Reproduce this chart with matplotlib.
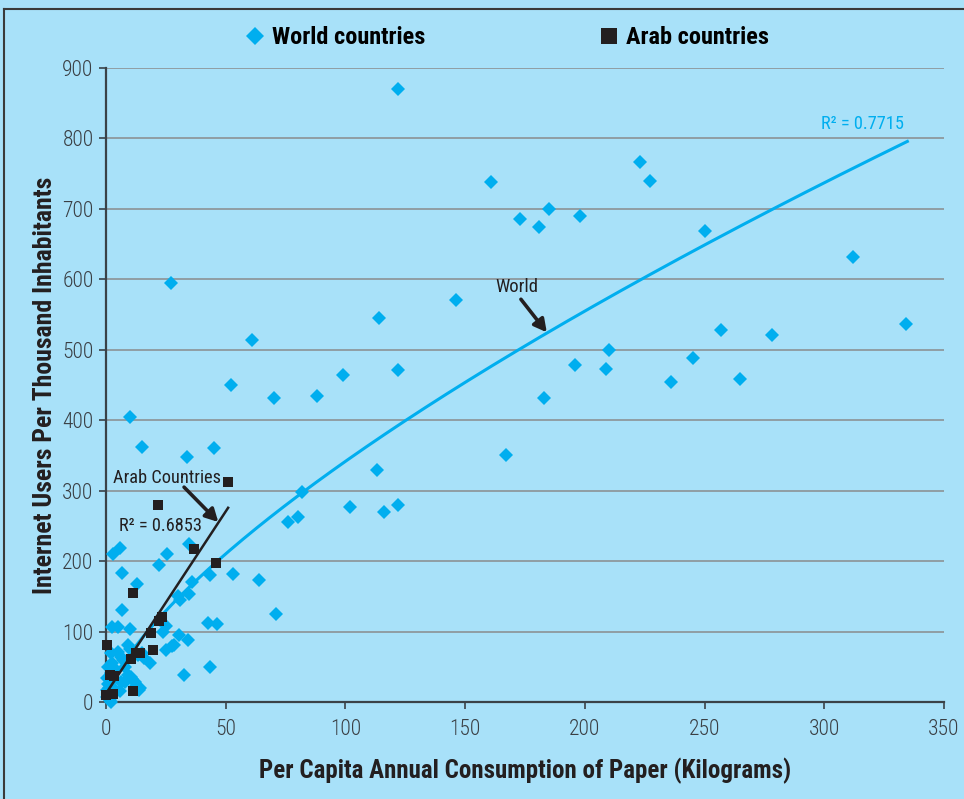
import matplotlib
matplotlib.use("Agg")
import matplotlib.pyplot as plt
import numpy as np
from matplotlib.lines import Line2D
from matplotlib import font_manager

# ---- data ----
world_x = [122, 27, 161, 173, 181, 185, 198, 223, 227, 250, 146, 114, 122, 61, 52, 70, 88, 99,
           113, 116, 122, 102, 80, 76, 82, 64, 71, 53, 167, 183, 196, 209, 210, 236, 245, 257,
           265, 278, 312, 334, 10, 15, 34, 45,
           34.7, 25.5, 22, 6, 3, 6.5, 12.8, 35.8, 43.4, 30, 31, 34.6, 6.5, 2.4, 4.9, 10, 42.5,
           46.2, 25, 24, 30.3, 34.2, 28.5, 27.4, 25, 18.4, 32.7, 43.4, 9.2, 5, 6.4, 2.2, 13.4,
           7.8, 10.6, 12, 13.6, 0.8, 2.2, 0.3, 0.4, 1.5, 6.4, 3.6, 5.7, 0.3, 8, 9, 11, 12, 14,
           7, 4, 1, 2.5, 3, 10, 16, 15, 1.2, 2]
world_y = [870, 595, 738, 686, 674, 700, 690, 767, 740, 669, 571, 545, 471, 514, 450, 431, 435, 464,
           330, 270, 279, 277, 263, 256, 298, 173, 125, 182, 350, 431, 478, 473, 500, 454, 488, 528,
           459, 521, 631, 536, 405, 362, 348, 360,
           224, 210, 194, 218, 210, 183, 167, 171, 180, 150, 145, 154, 131, 107, 106, 104, 112,
           111, 108, 100, 95, 88, 81, 79, 74, 56, 38, 50, 81, 71, 64, 69, 67,
           50, 36, 29, 17, 50, 41, 34, 7, 3, 29, 17, 15, 17, 28, 38, 33, 22, 20,
           60, 45, 25, 55, 33, 75, 63, 70, 20, 0]

arab_x = [0.5, 1.5, 3.3, 0.2, 2.9, 11.2, 10.6, 12.7, 14.2, 19.5, 18.7, 22.2, 23.5, 11.2, 21.9,
          36.9, 45.8, 50.8]
arab_y = [81, 38, 37, 10, 11, 16, 61, 69, 69, 74, 98, 115, 121, 155, 279, 217, 198, 313]

# trendlines
world_fit_a, world_fit_b = 13.6, 0.70      # power trend y = a * x^b
world_fit_range = (0.3, 334.7)
arab_fit_slope, arab_fit_icpt = 5.17, 12.0  # linear trend
arab_fit_range = (0.5, 51.0)
world_r2 = "R\u00b2 = 0.7715"
arab_r2 = "R\u00b2 = 0.6853"

xticks = [0, 50, 100, 150, 200, 250, 300, 350]
yticks = [0, 100, 200, 300, 400, 500, 600, 700, 800, 900]

# ---- font choice: prefer a condensed face ----
names = {f.name for f in font_manager.fontManager.ttflist}
FAM = ["DejaVu Sans"]
STRETCH = "normal"
for cand in ["Roboto Condensed", "Liberation Sans Narrow", "Open Sans Condensed",
             "DejaVu Sans Condensed", "Noto Sans Condensed"]:
    if cand in names:
        FAM = [cand, "DejaVu Sans"]
        break
else:
    STRETCH = "condensed"

def fp(size, weight="normal"):
    return font_manager.FontProperties(family=FAM, size=size, weight=weight, stretch=STRETCH)

# ---- style ----
BG = "#A8E1F9"
CYAN = "#00AEEF"
DARK = "#231F20"
GRID = "#8C9296"
AXC = "#3A4248"

fig = plt.figure(figsize=(9.64, 7.99), dpi=100, facecolor=BG)
ax = fig.add_axes([106/964, 1-702/799, (944-106)/964, (702-68)/799])
ax.set_facecolor(BG)

ax.set_xlim(0, 350)
ax.set_ylim(0, 900)
ax.set_xticks(xticks)
ax.set_yticks(yticks)
ax.set_xticklabels([str(t) for t in xticks], fontproperties=fp(15.5, 300))
ax.set_yticklabels([str(t) for t in yticks], fontproperties=fp(15.5, 300))
ax.yaxis.grid(True, color=GRID, lw=1.2)
ax.set_axisbelow(True)
for s in ["top", "right"]:
    ax.spines[s].set_visible(False)
for s in ["left", "bottom"]:
    ax.spines[s].set_color(AXC)
    ax.spines[s].set_linewidth(1.6)
ax.tick_params(axis="both", colors=AXC, length=5, width=1.2, direction="out",
               labelcolor="#3A3F44")
ax.tick_params(axis="y", pad=4)
ax.tick_params(axis="x", pad=7)

# trend lines
xs = np.linspace(world_fit_range[0], world_fit_range[1], 300)
ax.plot(xs, world_fit_a * xs ** world_fit_b, color=CYAN, lw=2.2, zorder=4)
xa = np.array(arab_fit_range)
ax.plot(xa, arab_fit_slope * xa + arab_fit_icpt, color=DARK, lw=1.8, zorder=5)

# points
ax.plot(world_x, world_y, linestyle="none", marker="D", ms=6.8, color=CYAN,
        markeredgewidth=0, zorder=3, clip_on=False)
ax.plot(arab_x, arab_y, linestyle="none", marker="s", ms=7.8, color=DARK,
        markeredgewidth=0, zorder=6, clip_on=False)

# annotations
arrow = dict(arrowstyle="-|>,head_length=0.75,head_width=0.4", color=DARK, lw=2.6,
             shrinkA=0, shrinkB=0)
ax.annotate("", xy=(184.1, 524.8), xytext=(173.3, 571.7), arrowprops=arrow, zorder=7)
ax.text(171.5, 589, "World", ha="center", va="center", color=DARK, fontproperties=fp(13.5))
ax.annotate("", xy=(46.9, 255.5), xytext=(32.6, 305), arrowprops=arrow, zorder=7)
ax.text(25.5, 318, "Arab Countries", ha="center", va="center", color=DARK, fontproperties=fp(13.2))
ax.text(22.6, 250, arab_r2, ha="center", va="center", color=DARK, fontproperties=fp(13.2))
ax.text(315.8, 821, world_r2, ha="center", va="center", color=CYAN, fontproperties=fp(13.2))

# axis labels
ax.set_xlabel("Per Capita Annual Consumption of Paper (Kilograms)", color=DARK,
              fontproperties=fp(18, "bold"))
ax.set_ylabel("Internet Users Per Thousand Inhabitants", color=DARK,
              fontproperties=fp(18.5, "bold"))
ax.xaxis.set_label_coords(0.5, (702-771)/634)
ax.yaxis.set_label_coords((45-106)/838, 0.5)
ax.xaxis.label.set_va("center")
ax.yaxis.label.set_va("center")

# legend
handles = [Line2D([], [], linestyle="none", marker="D", ms=9, color=CYAN, markeredgewidth=0),
           Line2D([], [], linestyle="none", marker="s", ms=11, color=DARK, markeredgewidth=0)]
fig.legend(handles, ["World countries", "Arab countries"], ncol=2, loc="center",
           bbox_to_anchor=(508/964, 1-38/799), frameon=False, columnspacing=7.2,
           handlelength=0.7, handletextpad=0.35,
           prop=fp(17.5, "bold"))

# outer frame lines
fig.add_artist(Line2D([4/964, 4/964], [0, 1-9/799], color="#3A3A3A", lw=1.5,
                      transform=fig.transFigure))
fig.add_artist(Line2D([4/964, 1], [1-9/799, 1-9/799], color="#3A3A3A", lw=1.5,
                      transform=fig.transFigure))

fig.savefig("out.png", dpi=100, facecolor=BG)
